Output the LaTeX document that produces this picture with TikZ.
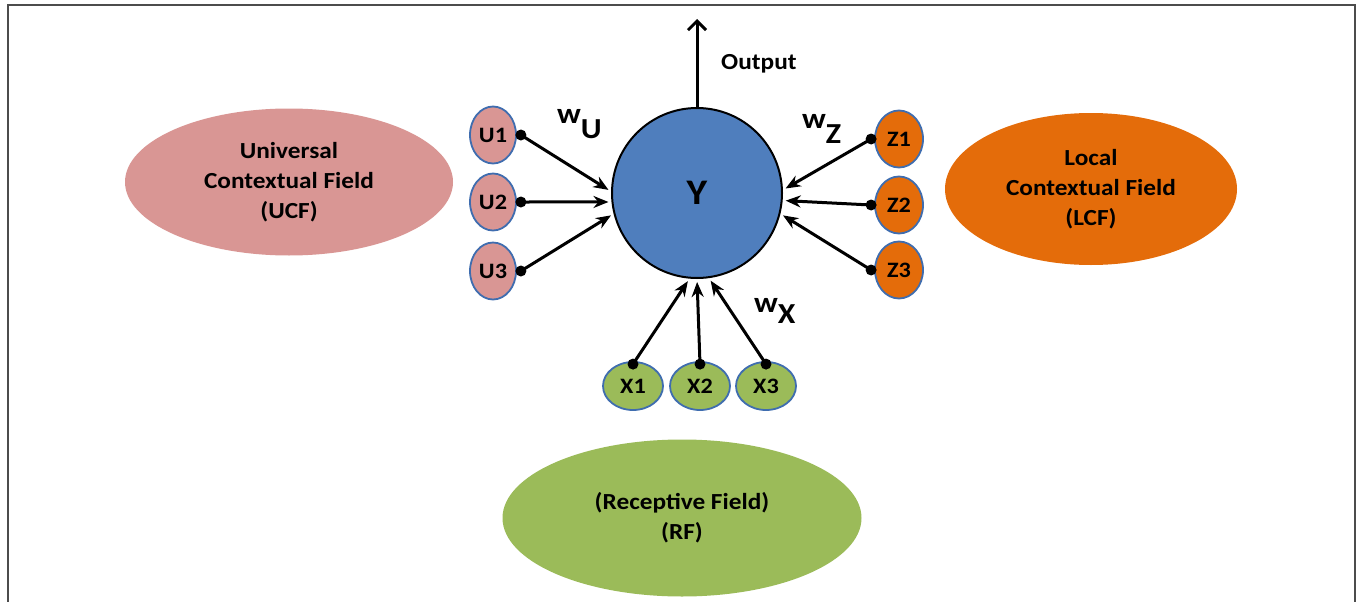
\documentclass[tikz,border=0pt]{standalone}
\usepackage{fontspec}
\setmainfont{Carlito}[FakeStretch=1.1]
\usetikzlibrary{shapes.geometric,arrows.meta}
\definecolor{yblue}{HTML}{4F7EBD}
\definecolor{upink}{HTML}{D99694}
\definecolor{zorange}{HTML}{E46C0A}
\definecolor{xgreen}{HTML}{9BBB59}
\definecolor{edgeblue}{HTML}{3F6DAF}
\begin{document}
\begin{tikzpicture}[x=1pt,y=-1pt,
  field/.style={ellipse, draw=none, align=center, inner sep=0pt,
    font=\fontsize{23}{30}\selectfont\bfseries},
  smallin/.style={ellipse, draw=edgeblue, line width=1.8pt, inner sep=0pt,
    font=\fontsize{22}{24}\selectfont\bfseries},
  uin/.style={smallin, fill=upink, minimum width=46pt, minimum height=57pt},
  zin/.style={smallin, fill=zorange, minimum width=48pt, minimum height=57pt},
  xin/.style={smallin, fill=xgreen, minimum width=60pt, minimum height=48pt},
  wlab/.style={anchor=base west, inner sep=0pt, font=\fontsize{29}{30}\selectfont\bfseries},
  arr/.style={line width=3pt, -{Stealth[length=15pt,width=12pt]}, shorten >=3pt},
  dotm/.style={fill=black}
]
\useasboundingbox (0,0) rectangle (1363,602);
% frame
\draw[line width=2pt, color=black!70] (8,602) -- (8,5) -- (1355,5) -- (1355,602);

% big fields
\node[field, fill=upink, minimum width=328pt, minimum height=147pt] (ucf) at (289,182)
  {Universal\\Contextual Field\\(UCF)};
\node[field, fill=zorange, minimum width=292pt, minimum height=152pt] (lcf) at (1091,189)
  {Local\\Contextual Field\\(LCF)};
\node[field, fill=xgreen, minimum width=359pt, minimum height=157pt] (rf) at (682,518)
  {(Receptive Field)\\(RF)};

% central neuron
\node[circle, draw=black, line width=2pt, fill=yblue, minimum size=170pt, inner sep=0pt,
  font=\fontsize{36}{36}\selectfont\bfseries] (Y) at (697,193) {Y};

% output
\coordinate (out) at (697,19);
\draw[line width=3pt, -{Straight Barb[length=9pt,width=18pt,line width=3pt]}] (Y.north) -- (out);
\node[anchor=west, inner sep=0pt, font=\fontsize{23}{24}\selectfont\bfseries] (outlab) at (721,64) {Output};

% inputs
\node[uin] (U1) at (493,135) {U1};
\node[uin] (U2) at (493,202) {U2};
\node[uin] (U3) at (493,271) {U3};
\node[zin] (Z1) at (899,139) {Z1};
\node[zin] (Z2) at (899,205) {Z2};
\node[zin] (Z3) at (899,270) {Z3};
\node[xin] (X1) at (633,386) {X1};
\node[xin] (X2) at (700,386) {X2};
\node[xin] (X3) at (766,386) {X3};

% dots
\coordinate (u1d) at ([xshift=4pt]U1.east);
\coordinate (u2d) at ([xshift=4pt]U2.east);
\coordinate (u3d) at ([xshift=4pt]U3.east);
\coordinate (z1d) at ([xshift=-3pt]Z1.west);
\coordinate (z2d) at ([xshift=-3pt]Z2.west);
\coordinate (z3d) at ([xshift=-3pt]Z3.west);
\coordinate (x1d) at ([yshift=-3pt]X1.north);
\coordinate (x2d) at ([yshift=-3pt]X2.north);
\coordinate (x3d) at ([yshift=-3pt]X3.north);

\draw[arr] (u1d) -- (Y.179);
\draw[arr] (u2d) -- (Y.186);
\draw[arr] (u3d) -- (Y.194);
\draw[arr] (z1d) -- (Y.2);
\draw[arr] (z2d) -- (Y.355);
\draw[arr] (z3d) -- (Y.346);
\draw[arr] (x1d) -- (Y.265);
\draw[arr] (x2d) -- (Y.270);
\draw[arr] (x3d) -- (Y.278);

\foreach \d in {u1d,u2d,u3d,z1d,z2d,z3d,x1d,x2d,x3d}
  \fill[dotm] (\d) circle (5.5pt);

% weight labels
\node[wlab] (wu) at (557,123) {w\raisebox{-15pt}{U}};
\node[wlab] (wz) at (802,128) {w\raisebox{-15pt}{Z}};
\node[wlab] (wx) at (754,312) {w\raisebox{-11pt}{X}};
\end{tikzpicture}
\end{document}
